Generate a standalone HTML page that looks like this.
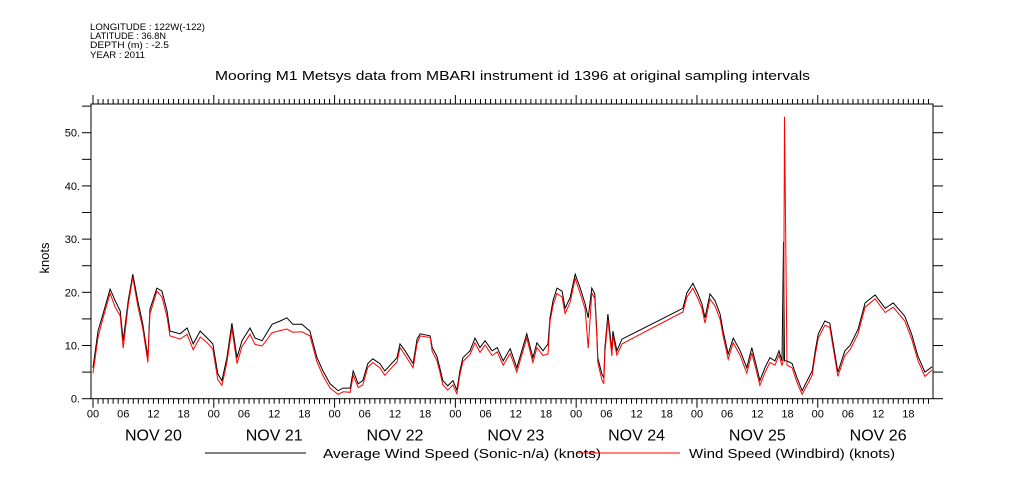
<!DOCTYPE html>
<html><head><meta charset="utf-8"><style>
html,body{margin:0;padding:0;background:#fff}
svg{display:block;font-family:"Liberation Sans",sans-serif}
</style></head><body>
<svg id="chart" width="1009" height="504" viewBox="0 0 1009 504" xmlns="http://www.w3.org/2000/svg">
<g font-size="9" fill="#000">
<text x="90" y="30" textLength="115" lengthAdjust="spacingAndGlyphs">LONGITUDE : 122W(-122)</text>
<text x="90" y="39" textLength="76" lengthAdjust="spacingAndGlyphs">LATITUDE : 36.8N</text>
<text x="90" y="48" textLength="79" lengthAdjust="spacingAndGlyphs">DEPTH (m) : -2.5</text>
<text x="90" y="58" textLength="55" lengthAdjust="spacingAndGlyphs">YEAR : 2011</text>
</g>
<text x="215" y="80" font-size="13" textLength="595" lengthAdjust="spacingAndGlyphs">Mooring M1 Metsys data from MBARI instrument id 1396 at original sampling intervals</text>
<text transform="translate(49,258) rotate(-90)" font-size="13" text-anchor="middle">knots</text>
<g id="axes"></g>
<g id="series"></g>
<g>
<g>
<line x1="205" y1="453" x2="306" y2="453" stroke="#000" stroke-width="1"/>
<text x="323" y="458" font-size="13" textLength="278" lengthAdjust="spacingAndGlyphs">Average Wind Speed (Sonic-n/a) (knots)</text>
</g>
<g>
<line x1="577" y1="453" x2="680" y2="453" stroke="#f00" stroke-width="1"/>
<text x="689" y="458" font-size="13" textLength="206" lengthAdjust="spacingAndGlyphs">Wind Speed (Windbird) (knots)</text>
</g>
</g>
</svg>
<script>
const hours=[0,1,2,3.4,4.4,5.4,6,7,7.9,8.9,9.9,10.9,11.3,12.7,13.7,14.7,15.3,17.3,18.7,19.9,21.3,22.7,23.8,24.8,25.6,26.6,27.6,28.6,29.6,31.2,32.2,33.6,35.6,37.2,38.5,39.7,41.5,43.1,44.5,45.7,47.1,48.7,49.7,51.1,51.7,52.7,53.6,54.6,55.6,57,58,59.4,60.4,61,62,63.6,64.4,65,67,67.4,68.3,68.9,69.5,70.5,71.5,72.3,72.9,73.5,74.9,75.9,76.9,77.9,79.3,80.3,81.5,82.9,84.2,85.2,86.2,87.4,88.2,89.4,90.4,90.8,91.4,92.2,93.2,93.8,94.8,95.8,96.8,97.8,98.4,99.1,99.7,100.1,100.3,101.1,101.5,101.7,102.3,103.1,103.3,104.1,105.1,117.2,118,119.2,120.2,121,121.6,122.6,123.6,124.6,125.2,126.2,127.2,128.6,129.9,130.9,131.9,132.5,133.5,134.5,135.5,136.3,136.9,137.2,137.4,137.9,138.9,139.9,140.9,141.9,142.9,143.5,144.1,145.4,146.4,148,149.4,150.4,152,153.4,155.4,157.4,159,161.3,162.7,163.9,165.3,166.7];
const sonic=[5.8,12.7,16,20.6,18.4,16.5,10.9,18.4,23.4,18.4,14,7.7,16.8,20.8,20.2,16.5,12.7,12.2,13.3,10.3,12.7,11.4,10.3,4.7,3.4,7.7,14.2,7.7,10.9,13.3,11.4,10.9,14,14.6,15.2,14,14,12.7,7.7,5.2,2.8,1.5,2,2,5.2,2.8,3.4,6.6,7.5,6.6,5.2,6.7,7.7,10.3,9,6.6,11.2,12.2,11.8,9.6,8,5.8,3.4,2.4,3.4,1.6,5.2,7.7,9,11.4,9.6,10.9,9,9.6,7.1,9.4,5.8,9,12.2,7.7,10.5,9,10.3,15.2,18.4,20.8,20.2,17,19,23.4,20.8,17.8,15.2,20.8,19.7,12.7,7.7,4.7,3.9,9.6,15.9,9,12.7,9,11.2,17,19.9,21.7,19.7,17.8,15.2,19.7,18.4,15.9,12.7,8.4,11.4,9,5.8,9.6,5.8,3.4,5.8,7.7,7.1,9,7.1,29.5,7.1,7.1,6.6,3.9,1.5,3.4,5.2,9,12.2,14.6,14.2,5,9,10,13,18,19.5,17,18,15.5,12,8,5,6];
const windbird=[4.8,11.5,15.2,19.8,17.2,15.6,9.5,17.6,22.8,17.4,13.2,6.8,15.9,20.2,19.1,15.4,11.8,11.2,12.1,9.2,11.6,10.5,9.3,3.6,2.5,6.8,13.2,6.6,9.8,12.1,10.2,9.9,12.4,12.8,13.1,12.5,12.6,11.8,6.9,4.3,2,0.8,1.3,1.2,4.4,2.1,2.6,5.9,6.8,5.8,4.4,5.9,6.9,9.6,8.2,5.8,10.4,11.8,11.5,8.9,7.2,5.1,2.6,1.6,2.6,0.9,4.5,7,8.3,10.5,8.7,10.1,8.1,8.8,6.3,8.5,5,8.2,11.4,6.8,9.6,8.1,8.4,14.5,17.5,19.8,19.1,16,18.1,22.6,19.8,16.8,9.5,19.9,18.8,11.8,6.8,3.6,2.8,8.6,14.9,8,11.8,8.2,10.3,16.3,19.1,20.8,18.8,16.9,14.2,18.7,17.4,14.9,11.8,7.4,10.5,8.1,4.8,8.6,4.9,2.5,4.9,6.8,6.3,8.2,6.2,7.5,53,6.3,5.8,3,0.8,2.6,4.4,8.2,11.4,13.8,13.4,4.2,8.1,9.2,12.2,17.2,18.8,16.2,17.2,14.6,11.1,7.2,4.2,5.4];
const yTickLabels=["0.","10.","20.","30.","40.","50."];
const dayLabels=["NOV 20","NOV 21","NOV 22","NOV 23","NOV 24","NOV 25","NOV 26"];
const hourLabels=["00","06","12","18"];

const NS="http://www.w3.org/2000/svg";
const L=91,R=933,T=104,B=398.7;
const h0=-0.4,h1=166.9,yMax=55.4;
function xs(h){return L+(h-h0)/(h1-h0)*(R-L);}
function ys(v){return B-v/yMax*(B-T);}
function mk(tag,attrs,parent){const e=document.createElementNS(NS,tag);for(const k in attrs)e.setAttribute(k,attrs[k]);parent.appendChild(e);return e;}
const ax=document.getElementById('axes');
const frame=mk('rect',{x:L,y:T,width:R-L,height:B-T,fill:'none',stroke:'#000','stroke-width':1},ax);


for(let v=0;v<=55;v+=5){
  const y=ys(v);
  const t1=mk('line',{x1:L-9,y1:y,x2:L,y2:y,stroke:'#000'},ax);
  
  
  const t2=mk('line',{x1:R,y1:y,x2:R+10,y2:y,stroke:'#000'},ax);
  
  
}
yTickLabels.forEach((s,i)=>{
  const t=mk('text',{x:L-11,y:ys(i*10)+4,'font-size':11,'text-anchor':'end'},ax);
  t.textContent=s;
  
  
});
for(let h=0;h<=h1;h+=1){
  const x=xs(h);const major=(h%24===0);
  const tb=mk('line',{x1:x,y1:B,x2:x,y2:B+(major?9:5),stroke:'#000'},ax);
  
  
  const tt=mk('line',{x1:x,y1:T,x2:x,y2:T-(major?9:5),stroke:'#000'},ax);
  
  
  if(h%6===0){
    const t=mk('text',{x:x,y:B+19,'font-size':11,'text-anchor':'middle'},ax);
    t.textContent=hourLabels[(h/6)%4];
    
    
  }
}
dayLabels.forEach((s,i)=>{
  const t=mk('text',{x:xs(i*24+12),y:B+42,'font-size':16,'text-anchor':'middle'},ax);
  t.textContent=s;
  
  
});
const sg=document.getElementById('series');
function line(vals,color,name){
  const d=hours.map((h,i)=>(i?'L':'M')+xs(h).toFixed(1)+' '+ys(vals[i]).toFixed(1)).join(' ');
  const p=mk('path',{d:d,fill:'none',stroke:color,'stroke-width':1},sg);
  
  
}
line(sonic,'#000','sonic-wind-speed-line');
line(windbird,'#f00','windbird-wind-speed-line');
</script>
</body></html>
